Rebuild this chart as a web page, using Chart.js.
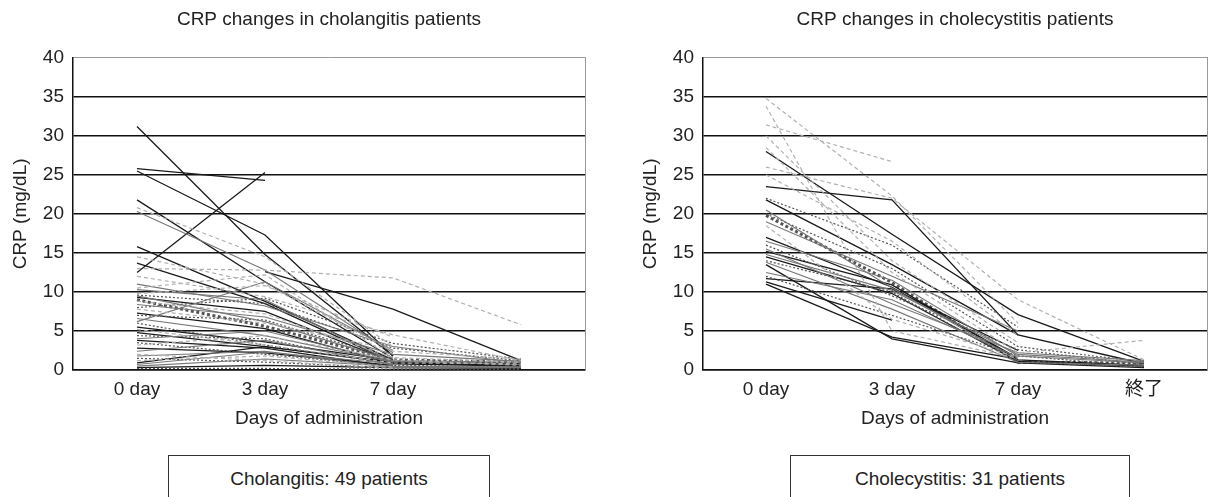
<!DOCTYPE html>
<html>
<head>
<meta charset="utf-8">
<script src="https://cdn.jsdelivr.net/npm/chart.js@4.4.1/dist/chart.umd.min.js"></script>
<style>
body { margin: 0; width: 1209px; height: 497px; overflow: hidden; background: #fff; position: relative;
       font-family: "Liberation Sans", Arial, sans-serif; }
.wrap { position: absolute; top: 0; height: 430px; }
.box { position: absolute; top: 455px; height: 60px; border: 1px solid #333; font-size: 19px;
       text-align: center; line-height: 46px; color: #222; }
</style>
</head>
<body>
<div class="wrap" style="left:0px;width:658px"><canvas id="cholangitisChart"></canvas></div>
<div class="wrap" style="left:630px;width:650px"><canvas id="cholecystitisChart"></canvas></div>
<div class="box" style="left:168px;width:320px">Cholangitis: 49 patients</div>
<div class="box" style="left:790px;width:338px">Cholecystitis: 31 patients</div>
<script>
// x categories
var cholangitisDays = ['0 day', '3 day', '7 day', ''];
var cholecystitisDays = ['0 day', '3 day', '7 day', '終了'];
var crpTicks = [0, 5, 10, 15, 20, 25, 30, 35, 40];

// CRP (mg/dL) per patient: 0 day, 3 day, 7 day, end
var cholangitisBlack = [
    [31.2, 14.8, 1.8, null], [25.5, 17.3, 1.8, null], [25.8, 24.3, null, null],
    [12.5, 25.3, null, null], [21.8, 11.3, 1.5, null], [15.8, 8.8, 1.3, null],
    [13.7, 8.5, 1.0, null], [null, 12.6, 7.8, 1.2], [9.3, 7.5, 1.0, 0.8],
    [7.3, 5.3, 0.8, 0.5], [4.8, 3.0, 0.9, 0.6], [3.8, 2.8, 0.4, 0.3],
    [0.9, 3.0, 1.0, 0.5], [0.3, 0.6, 0.3, 0.2], [5.5, 3.6, 1.2, null],
    [2.8, 2.2, 0.6, null]
];
var cholangitisGray = [
    [20.3, 12.8, 2.2, null], [10.3, 9.0, 1.0, null], [9.5, 6.2, 1.2, 1.0],
    [6.2, 11.3, 2.5, null], [4.0, 5.0, 1.1, 0.7], [2.4, 3.8, 0.7, null],
    [1.8, 2.4, 0.3, 0.4], [0.7, 2.3, 0.8, null], [0.5, 1.4, 0.5, 0.3],
    [6.6, 4.4, 1.0, null], [8.4, 6.8, 2.0, 1.1], [11.0, 8.2, 3.0, 0.9]
];
var cholangitisLight = [
    [13.0, 12.8, 11.8, 5.8], [20.8, 14.5, 3.0, null], [9.8, 10.8, 4.2, null],
    [10.5, 12.2, 1.5, null], [8.8, 7.2, 1.6, 1.0], [3.2, 4.4, 1.3, 0.6],
    [1.2, 1.8, 0.4, null], [7.8, 6.0, 2.6, null], [14.5, 11.0, 2.4, 1.4],
    [5.2, 3.2, 0.9, 0.8], [12.0, 9.4, 4.5, 1.2], [2.0, 1.2, 0.2, null]
];
var cholangitisDotted = [
    [9.6, 8.5, 2.8, 1.2], [7.0, 6.4, 1.4, null], [4.4, 4.0, 0.6, 0.4],
    [3.5, 2.0, 0.5, null], [8.0, 9.2, 3.4, 1.4], [1.5, 1.0, 0.3, 0.2],
    [0.2, 0.2, 0.1, 0.1], [6.0, 3.2, 0.8, null]
];
var cholangitisSquares = [
    [9.0, 5.6, 1.3, 1.0]
];

var cholecystitisBlack = [
    [28.0, 17.4, 7.1, 1.1], [23.5, 21.8, 4.5, 0.8], [17.0, 10.6, 1.5, null],
    [15.2, 10.9, 1.3, 0.6], [14.5, 9.8, 1.1, 0.5], [11.7, 10.4, 2.5, null],
    [11.3, 6.4, null, null], [11.0, 4.2, 1.4, null], [13.5, 4.0, 0.9, 0.3],
    [21.8, 13.5, 4.5, null]
];
var cholecystitisGray = [
    [16.5, 11.5, 1.8, 0.9], [14.8, 10.2, 2.0, 1.0], [12.5, 9.0, 1.6, null],
    [20.5, 10.5, 1.2, null], [13.8, 7.8, 1.0, 0.6], [19.0, 12.0, 5.0, null],
    [15.5, 8.5, 2.2, 1.2]
];
var cholecystitisLight = [
    [33.8, 5.0, 1.5, null], [31.4, 26.7, null, null], [28.5, 12.5, 2.2, 3.8],
    [26.0, 22.0, 9.0, 1.3], [30.0, 14.0, 3.5, null], [25.0, 16.5, 4.4, null],
    [34.8, 22.3, 6.0, null], [18.5, 6.5, 1.6, null]
];
var cholecystitisDotted = [
    [20.0, 13.0, 3.0, 1.0], [22.0, 16.0, 5.5, null], [16.0, 9.5, 2.6, 0.7],
    [12.0, 7.0, 1.8, 0.5], [14.0, 10.0, 1.0, 0.4]
];
var cholecystitisSquares = [
    [19.8, 11.2, 1.0, 0.9]
];

// line looks
var blackStyle = { borderColor: '#1a1a1a', borderWidth: 1.3 };
var grayStyle = { borderColor: '#777', borderWidth: 1.1 };
var lightStyle = { borderColor: '#b0b0b0', borderWidth: 1.2, borderDash: [4, 3] };
var dottedStyle = { borderColor: '#555', borderWidth: 1.2, borderDash: [2, 2] };
var squareStyle = { borderColor: '#555', borderWidth: 3, borderDash: [3, 2.5] }; // the "square marker" series

var font = '"Liberation Sans", Arial, "Noto Sans CJK JP", sans-serif';

function makeSets(groups) {
    var sets = [];
    groups.forEach(function (g) {
        g[0].forEach(function (row) {
            sets.push(Object.assign({ data: row, fill: false, tension: 0, pointRadius: 0 }, g[1]));
        });
    });
    return sets;
}

function makeChart(id, title, labels, sets) {
    return new Chart(document.getElementById(id), {
        type: 'line',
        data: { labels: labels, datasets: sets },
        options: {
            responsive: true,
            maintainAspectRatio: false,
            animation: false,
            layout: { padding: 0 },
            plugins: {
                legend: { display: false },
                tooltip: { enabled: false },
                title: {
                    display: true, text: title, color: '#222',
                    font: { family: font, size: 19, weight: 'normal' },
                    padding: { top: 8, bottom: 27 }
                }
            },
            scales: {
                x: {
                    offset: true,
                    grid: { display: false },
                    border: { color: '#111', width: 1.5 },
                    ticks: { color: '#222', font: { family: font, size: 19 }, padding: 0, maxRotation: 0, autoSkip: false },
                    title: { display: true, text: 'Days of administration', color: '#222',
                        font: { family: font, size: 19 }, padding: { top: 0, bottom: 0 } },
                    afterFit: function (s) { s.height = 60; }
                },
                y: {
                    min: 0, max: 40,
                    afterBuildTicks: function (s) { s.ticks = crpTicks.map(function (v) { return { value: v }; }); },
                    grid: {
                        drawTicks: false,
                        color: function (c) { return c.tick.value === 40 ? '#999' : '#111'; },
                        lineWidth: function (c) { return c.tick.value === 40 ? 1 : 1.6; }
                    },
                    border: { color: '#111', width: 1.5 },
                    ticks: { color: '#222', font: { family: font, size: 19 }, padding: 9 },
                    title: { display: true, text: 'CRP (mg/dL)', color: '#222',
                        font: { family: font, size: 19 }, padding: { top: 9, bottom: 0 } },
                    afterFit: function (s) { s.width = 73; }
                },
                y2: {
                    position: 'right',
                    grid: { display: false },
                    ticks: { display: false },
                    border: { display: true, color: '#999', width: 1 },
                    afterFit: function (s) { s.width = 73; }
                }
            }
        }
    });
}

makeChart('cholangitisChart', 'CRP changes in cholangitis patients', cholangitisDays, makeSets([
    [cholangitisLight, lightStyle], [cholangitisGray, grayStyle], [cholangitisDotted, dottedStyle],
    [cholangitisBlack, blackStyle], [cholangitisSquares, squareStyle]
]));

makeChart('cholecystitisChart', 'CRP changes in cholecystitis patients', cholecystitisDays, makeSets([
    [cholecystitisLight, lightStyle], [cholecystitisGray, grayStyle], [cholecystitisDotted, dottedStyle],
    [cholecystitisBlack, blackStyle], [cholecystitisSquares, squareStyle]
]));
</script>
</body>
</html>
